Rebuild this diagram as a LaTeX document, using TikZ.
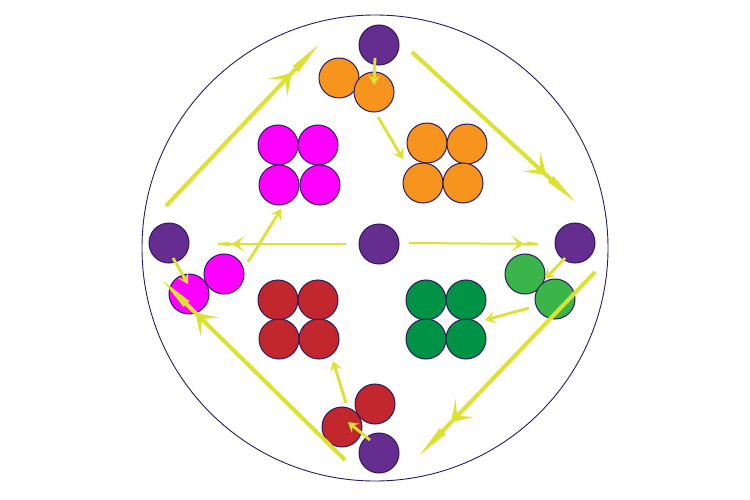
\documentclass[tikz,border=0pt]{standalone}
\usetikzlibrary{arrows.meta}
\usetikzlibrary{decorations.markings}
\definecolor{rim}{HTML}{2B1A5E}
\definecolor{purp}{HTML}{662D91}
\definecolor{orng}{HTML}{F7941E}
\definecolor{mgnt}{HTML}{FF00FF}
\definecolor{crim}{HTML}{C1272D}
\definecolor{lgrn}{HTML}{39B54A}
\definecolor{dgrn}{HTML}{009245}
\definecolor{yel}{HTML}{DCE232}
\begin{document}
\begin{tikzpicture}[x=1pt,y=-1pt,
  ball/.style={circle,draw=rim,line width=1pt,minimum size=40pt,inner sep=0pt,fill=#1},
  big/.style={draw=yel,line width=4pt,-{Triangle[length=40pt,width=7pt]},postaction=decorate,
    decoration={markings,mark=at position 0.8 with {\arrow[yel]{Stealth[length=20pt,width=26pt,inset=11pt]}}}},
  mid/.style={draw=yel,line width=2pt,-{Triangle[length=26pt,width=3.5pt]},postaction=decorate,
    decoration={markings,mark=at position 0.8 with {\arrow[yel]{Stealth[length=13pt,width=16pt,inset=7pt]}}}},
  small/.style={draw=yel,line width=2.8pt,-{Stealth[length=10pt,width=12pt,inset=4pt]}}]
  \useasboundingbox (0,0) rectangle (750,500);
  \node[circle,draw=rim,line width=0.9pt,minimum size=466pt,inner sep=0pt] (cell) at (375,248) {};
  % purple balls
  \node[ball=purp] (pT) at (379,45) {};
  \node[ball=purp] (pL) at (169,243) {};
  \node[ball=purp] (pC) at (379,244) {};
  \node[ball=purp] (pR) at (575,243) {};
  \node[ball=purp] (pB) at (379,453) {};
  % pairs
  \node[ball=orng] (op1) at (339,78) {};
  \node[ball=orng] (op2) at (374,92) {};
  \node[ball=mgnt] (mp1) at (224,274) {};
  \node[ball=mgnt] (mp2) at (189,294) {};
  \node[ball=lgrn] (gp1) at (525,274) {};
  \node[ball=lgrn] (gp2) at (555,299) {};
  \node[ball=crim] (rp1) at (375,404) {};
  \node[ball=crim] (rp2) at (342,427) {};
  % quads
  \foreach \i/\x/\y in {1/427/143,2/467/144,3/423/183,4/463/183}
    \node[ball=orng] (oq\i) at (\x,\y) {};
  \foreach \i/\x/\y in {1/278/145,2/318/145,3/279/185,4/320/185}
    \node[ball=mgnt] (mq\i) at (\x,\y) {};
  \foreach \i/\x/\y in {1/278/300,2/318/300,3/279/339,4/319/339}
    \node[ball=crim] (rq\i) at (\x,\y) {};
  \foreach \i/\x/\y in {1/426/300,2/466/300,3/426/339,4/466/339}
    \node[ball=dgrn] (gq\i) at (\x,\y) {};
  % arrow ends
  \coordinate (a1) at (166,206); \coordinate (b1) at (323,40);
  \coordinate (a2) at (412,52);  \coordinate (b2) at (580,206);
  \coordinate (a3) at (595,272); \coordinate (b3) at (415,460);
  \coordinate (a4) at (345,460); \coordinate (b4) at (158,276);
  \coordinate (c1) at (346,244); \coordinate (d1) at (203,244);
  \coordinate (c2) at (409,243); \coordinate (d2) at (553,244);
  \coordinate (s1) at (375,58);  \coordinate (t1) at (374,85);
  \coordinate (s2) at (378,117); \coordinate (t2) at (403,159);
  \coordinate (s3) at (173,258); \coordinate (t3) at (188,284);
  \coordinate (s4) at (248,262); \coordinate (t4) at (281,209);
  \coordinate (s5) at (565,258); \coordinate (t5) at (545,279);
  \coordinate (s6) at (529,308); \coordinate (t6) at (485,320);
  \coordinate (s7) at (370,440); \coordinate (t7) at (348,422);
  \coordinate (s8) at (346,403); \coordinate (t8) at (333,361);
  \path[big] (a1) -- (b1);
  \path[big] (a2) -- (b2);
  \path[big] (a3) -- (b3);
  \path[big] (a4) -- (b4);
  \path[mid] (c1) -- (d1);
  \path[mid] (c2) -- (d2);
  \foreach \k in {1,...,8}
    \path[small] (s\k) -- (t\k);
\end{tikzpicture}
\end{document}
